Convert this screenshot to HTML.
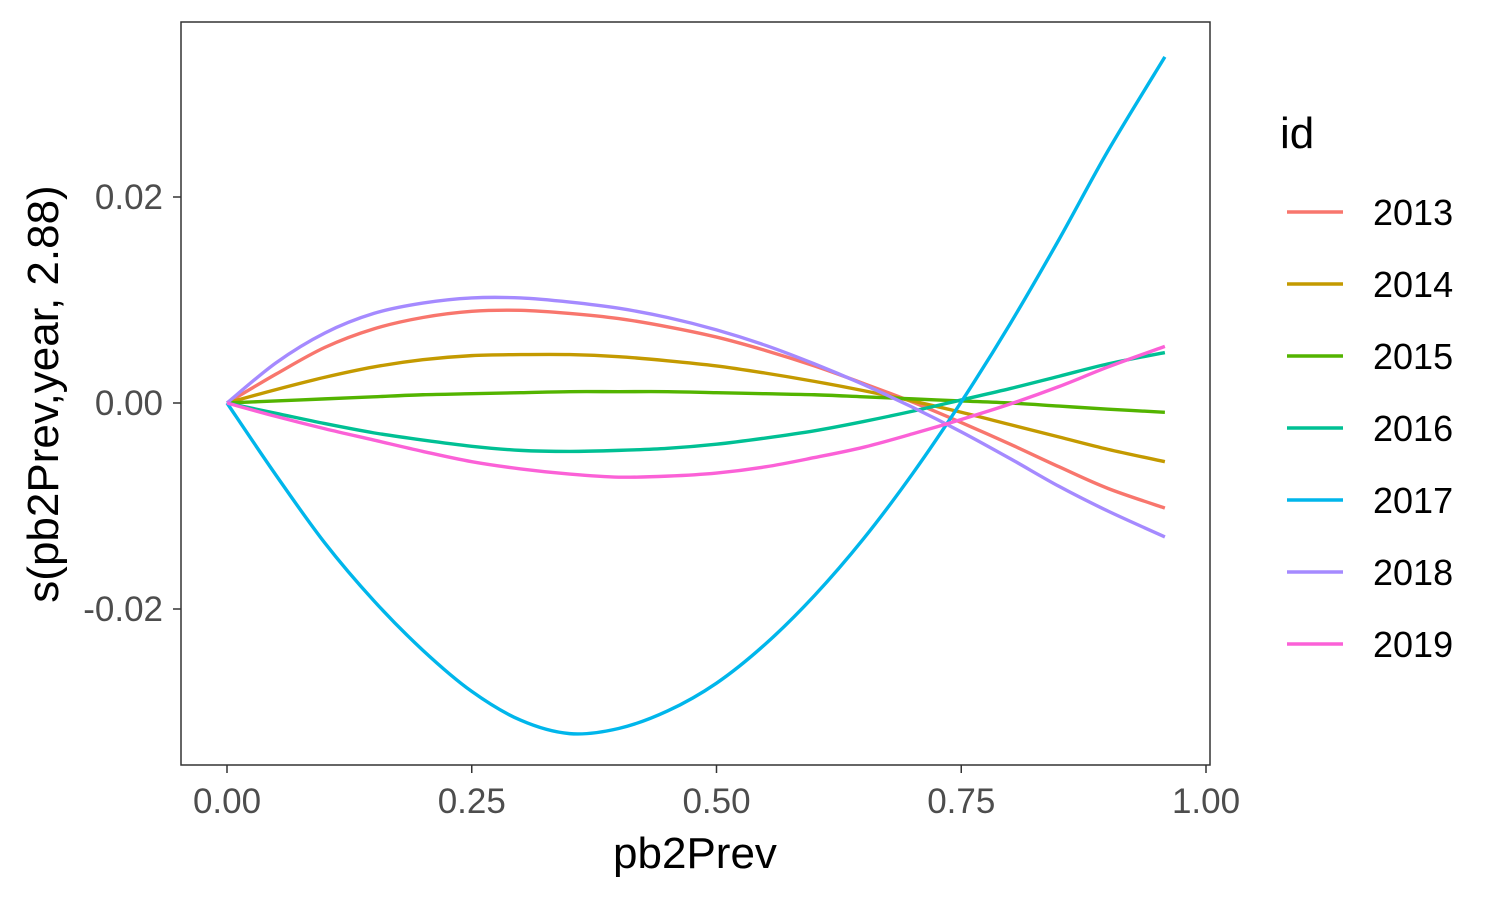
<!DOCTYPE html>
<html><head><meta charset="utf-8"><style>
body{margin:0;background:#fff;}
svg text{font-family:"Liberation Sans",sans-serif;}
</style></head><body>
<svg id="chart" width="1500" height="900">
<rect x="0" y="0" width="1500" height="900" fill="#fff"/>
<g id="plot"></g>
</svg>
<script>
const xs=[0,0.05,0.1,0.15,0.2,0.25,0.3,0.35,0.4,0.45,0.5,0.55,0.6,0.65,0.7,0.75,0.8,0.85,0.9,0.958];
const seriesNames=["2013","2014","2015","2016","2017","2018","2019"];
const colors=["#F8766D","#C49A00","#53B400","#00C094","#00B6EB","#A58AFF","#FB61D7"];
const v2013=[0,0.0028,0.0054,0.0072,0.0083,0.0089,0.009,0.0087,0.0082,0.0074,0.0064,0.0051,0.0036,0.0019,0.0001,-0.0019,-0.004,-0.0062,-0.0083,-0.0102];
const v2014=[0,0.0013,0.0025,0.0035,0.0042,0.0046,0.0047,0.0047,0.0045,0.0041,0.0036,0.0029,0.0021,0.0012,0.0002,-0.0009,-0.0021,-0.0033,-0.0045,-0.0057];
const v2015=[0,0.0002,0.0004,0.0006,0.0008,0.0009,0.001,0.0011,0.0011,0.0011,0.001,0.0009,0.0008,0.0006,0.0004,0.0002,0,-0.0003,-0.0006,-0.0009];
const v2016=[0,-0.001,-0.002,-0.0029,-0.0036,-0.0042,-0.0046,-0.0047,-0.0046,-0.0044,-0.004,-0.0034,-0.0027,-0.0018,-0.0008,0.0003,0.0014,0.0026,0.0038,0.0049];
const v2017=[0,-0.007,-0.0136,-0.0192,-0.024,-0.028,-0.0308,-0.0321,-0.0316,-0.0299,-0.0272,-0.0234,-0.0187,-0.0132,-0.0069,0.0001,0.0077,0.0159,0.0245,0.0336];
const v2018=[0,0.0039,0.0068,0.0087,0.0097,0.0102,0.0102,0.0098,0.0092,0.0083,0.0071,0.0056,0.0038,0.0018,-0.0004,-0.0028,-0.0054,-0.0081,-0.0105,-0.013];
const v2019=[0,-0.0013,-0.0025,-0.0036,-0.0047,-0.0057,-0.0064,-0.0069,-0.0072,-0.0071,-0.0068,-0.0062,-0.0053,-0.0043,-0.003,-0.0016,-0.0001,0.0016,0.0035,0.0055];
const allSeries=[v2013,v2014,v2015,v2016,v2017,v2018,v2019];
const xTicks=[0,0.25,0.5,0.75,1];
const xTickLabels=["0.00","0.25","0.50","0.75","1.00"];
const yTicks=[-0.02,0,0.02];
const yTickLabels=["-0.02","0.00","0.02"];

const NS="http://www.w3.org/2000/svg";
const g=document.getElementById('plot');
const X=v=>227+v*979;
const Y=v=>403-v*10300;
function el(t,a,txt){const e=document.createElementNS(NS,t);for(const k in a)e.setAttribute(k,a[k]);if(txt!==undefined)e.textContent=txt;g.appendChild(e);return e;}

const panel=el('rect',{x:181,y:22,width:1029,height:743,fill:'none',stroke:'#333','stroke-width':1.5});



xTicks.forEach((t,i)=>{
  const l=el('line',{x1:X(t),x2:X(t),y1:765,y2:773,stroke:'#333','stroke-width':1.5});
  
  
  const tx=el('text',{x:X(t),y:813,'text-anchor':'middle','font-size':35,fill:'#4d4d4d'},xTickLabels[i]);
  
  
});
yTicks.forEach((t,i)=>{
  const l=el('line',{x1:173,x2:181,y1:Y(t),y2:Y(t),stroke:'#333','stroke-width':1.5});
  
  
  const tx=el('text',{x:163,y:Y(t)+12,'text-anchor':'end','font-size':35,fill:'#4d4d4d'},yTickLabels[i]);
  
  
});

function smooth(pts){
  let d='M'+pts[0][0]+','+pts[0][1];
  for(let i=0;i<pts.length-1;i++){
    const p0=pts[Math.max(0,i-1)],p1=pts[i],p2=pts[i+1],p3=pts[Math.min(pts.length-1,i+2)];
    const c1=[p1[0]+(p2[0]-p0[0])/6,p1[1]+(p2[1]-p0[1])/6];
    const c2=[p2[0]-(p3[0]-p1[0])/6,p2[1]-(p3[1]-p1[1])/6];
    d+=' C'+c1[0]+','+c1[1]+' '+c2[0]+','+c2[1]+' '+p2[0]+','+p2[1];
  }
  return d;
}
allSeries.forEach((s,i)=>{
  const pts=s.map((v,j)=>[X(xs[j]),Y(v)]);
  const p=el('path',{d:smooth(pts),fill:'none',stroke:colors[i],'stroke-width':3.4});
  
  
});

const xt=el('text',{x:695,y:868,'text-anchor':'middle','font-size':44,fill:'#000'},'pb2Prev');


const yt=el('text',{x:0,y:0,'text-anchor':'middle','font-size':44,fill:'#000',transform:'translate(58,394) rotate(-90)'},'s(pb2Prev,year, 2.88)');



const lt=el('text',{x:1280,y:148,'font-size':44,fill:'#000'},'id');


seriesNames.forEach((n,i)=>{
  const y=212+i*72;
  const l=el('line',{x1:1287,x2:1343,y1:y,y2:y,stroke:colors[i],'stroke-width':3.4});
  
  
  const t=el('text',{x:1373,y:y+13,'font-size':36,fill:'#000'},n);
  
  
});
</script>
</body></html>
